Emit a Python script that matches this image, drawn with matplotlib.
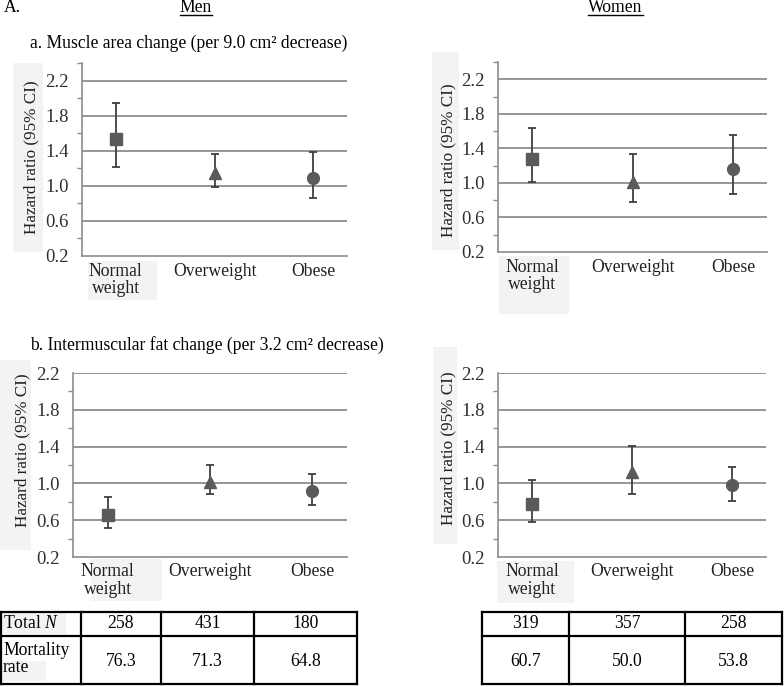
import matplotlib
matplotlib.use("Agg")
import matplotlib.pyplot as plt
from matplotlib.patches import Rectangle
from matplotlib.lines import Line2D

plt.rcParams['font.family'] = ['Liberation Serif', 'DejaVu Serif']
plt.rcParams['mathtext.fontset'] = 'custom'
plt.rcParams['mathtext.rm'] = 'Liberation Serif'
plt.rcParams['mathtext.it'] = 'Liberation Serif:italic'

W, H = 784, 687

categories = ["Normal\nweight", "Overweight", "Obese"]
yticks = [0.2, 0.6, 1.0, 1.4, 1.8, 2.2]
ytick_labels = ["0.2", "0.6", "1.0", "1.4", "1.8", "2.2"]

# Panel a: muscle area change
men_a_hr = [1.53, 1.15, 1.09]
men_a_lo = [1.21, 0.99, 0.86]
men_a_hi = [1.94, 1.36, 1.38]
women_a_hr = [1.28, 1.01, 1.16]
women_a_lo = [1.01, 0.78, 0.87]
women_a_hi = [1.63, 1.34, 1.55]
# Panel b: intermuscular fat change
men_b_hr = [0.66, 1.02, 0.92]
men_b_lo = [0.51, 0.88, 0.77]
men_b_hi = [0.85, 1.20, 1.10]
women_b_hr = [0.78, 1.12, 0.98]
women_b_lo = [0.58, 0.88, 0.81]
women_b_hi = [1.04, 1.41, 1.18]

men_total_n = ["258", "431", "180"]
men_mortality = ["76.3", "71.3", "64.8"]
women_total_n = ["319", "357", "258"]
women_mortality = ["60.7", "50.0", "53.8"]

markers = ["s", "^", "o"]
msizes = [8, 9, 8.5]
MC = "#5a5a5a"
EC = "#3f3f3f"
GC = "#8c8c8c"
BG = "#f3f3f3"
FS = 12.7
TFS = 13.5

fig = plt.figure(figsize=(W / 100, H / 100), dpi=100)

# overlay axes in pixel coordinates
ov = fig.add_axes([0, 0, 1, 1], zorder=0)
ov.set_xlim(0, W)
ov.set_ylim(H, 0)
ov.axis("off")


def box(x0, y0, x1, y1):
    ov.add_patch(Rectangle((x0, y0), x1 - x0, y1 - y0, facecolor=BG,
                           edgecolor="none", zorder=0))


def make_axes(x0, y0, x1, y1, ytop, hr, lo, hi):
    ax = fig.add_axes([x0 / W, 1 - y1 / H, (x1 - x0) / W, (y1 - y0) / H], zorder=2)
    ax.set_facecolor("none")
    ax.set_xlim(-0.34, 2.34)
    ax.set_ylim(0.2, ytop)
    for s in ["top", "right"]:
        ax.spines[s].set_visible(False)
    ax.spines["left"].set_color(GC)
    ax.spines["bottom"].set_color(GC)
    ax.spines["left"].set_linewidth(1.2)
    ax.spines["bottom"].set_linewidth(1.2)
    ax.set_yticks(yticks)
    ax.set_yticklabels(ytick_labels)
    minors = [v for v in [0.4, 0.8, 1.2, 1.6, 2.0, 2.4] if v <= ytop + 1e-9]
    ax.set_yticks(minors, minor=True)
    ax.tick_params(axis="y", which="major", length=0, pad=9.5,
                   labelsize=TFS, labelcolor="#303030")
    ax.tick_params(axis="y", which="minor", length=3.5, color=GC, width=1)
    ax.set_xticks([])
    for v in yticks[1:]:
        ax.axhline(v, color=GC, lw=1.3, zorder=1)
    for i in range(3):
        ax.errorbar(i, hr[i], yerr=[[hr[i] - lo[i]], [hi[i] - hr[i]]],
                    fmt="none", ecolor=EC, elinewidth=1.3, capsize=3, capthick=1.3,
                    zorder=3)
        ax.plot(i, hr[i], marker=markers[i], ms=msizes[i], color=MC,
                linestyle="none", zorder=4)
    for i, c in enumerate(categories):
        ax.text(i, -0.035, c, transform=ax.get_xaxis_transform(), ha="center",
                va="top", multialignment="center", fontsize=FS, linespacing=1.05,
                color="#202020")
    return ax


make_axes(82, 63, 347, 256, 2.4, men_a_hr, men_a_lo, men_a_hi)
make_axes(498, 62, 767, 252, 2.4, women_a_hr, women_a_lo, women_a_hi)
make_axes(73, 373, 347, 557, 2.2, men_b_hr, men_b_lo, men_b_hi)
make_axes(498, 373, 766, 557, 2.2, women_b_hr, women_b_lo, women_b_hi)

# background boxes
box(13, 63, 43, 252)
box(432, 52, 459, 250)
box(0, 360, 31, 550)
box(433, 347, 457, 544)
box(88, 261, 157, 300)
box(499, 256, 569, 314)
box(91, 559, 162, 601)
box(497, 561, 574, 603)
box(0, 613, 66, 634)
box(0, 661, 46, 681)

# y labels
ylab = "Hazard ratio (95% CI)"
for (x, y) in [(31.5, 157), (448, 160), (22.5, 450), (448, 448)]:
    ov.text(x, y, ylab, rotation=90, ha="center", va="center", fontsize=12.3,
            color="#202020", zorder=3)

# headers
ov.text(4, 8, "A.", ha="left", va="center", fontsize=FS, zorder=3)
ov.text(196, 7, "Men", ha="center", va="center", fontsize=FS, zorder=3)
ov.add_line(Line2D([180, 212], [14.5, 14.5], color="black", lw=1, zorder=3))
ov.text(615, 7, "Women", ha="center", va="center", fontsize=FS, zorder=3)
ov.add_line(Line2D([588, 643], [14.5, 14.5], color="black", lw=1, zorder=3))
ov.text(30, 43, "a. Muscle area change (per 9.0 cm² decrease)", ha="left",
        va="center", fontsize=FS, zorder=3)
ov.text(30, 345, "b. Intermuscular fat change (per 3.2 cm² decrease)", ha="left",
        va="center", fontsize=FS, zorder=3)

# tables
ty0, tym, ty1 = 612, 636, 684


def table(x_edges):
    lw = 1.6
    x0, x1 = x_edges[0], x_edges[-1]
    for y in [ty0, tym, ty1]:
        ov.add_line(Line2D([x0, x1], [y, y], color="black", lw=lw, zorder=3))
    for x in x_edges:
        ov.add_line(Line2D([x, x], [ty0, ty1], color="black", lw=lw, zorder=3))


men_edges = [1, 81, 161, 254, 357]
table(men_edges)
for i in range(3):
    cx = (men_edges[i + 1] + men_edges[i + 2]) / 2
    ov.text(cx, 624, men_total_n[i], ha="center", va="center", fontsize=FS, zorder=4)
    ov.text(cx, 661, men_mortality[i], ha="center", va="center", fontsize=FS, zorder=4)
ov.text(3, 624, "Total $\\mathit{N}$", ha="left", va="center", fontsize=FS, zorder=4)
ov.text(3, 659, "Mortality\nrate", ha="left", va="center", fontsize=FS,
        linespacing=1.0, zorder=4)

women_edges = [482, 569, 685, 782]
table(women_edges)
for i in range(3):
    cx = (women_edges[i] + women_edges[i + 1]) / 2
    ov.text(cx, 624, women_total_n[i], ha="center", va="center", fontsize=FS, zorder=4)
    ov.text(cx, 661, women_mortality[i], ha="center", va="center", fontsize=FS, zorder=4)

fig.savefig("out.png", dpi=100)
